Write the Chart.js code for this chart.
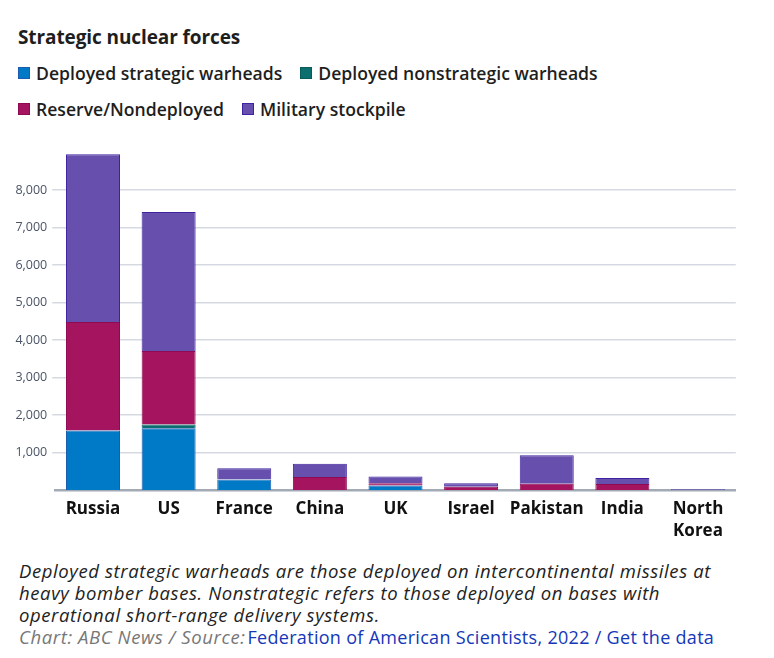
<!DOCTYPE html>
<html><head><meta charset="utf-8">
<script src="https://cdn.jsdelivr.net/npm/chart.js@4.4.1/dist/chart.umd.min.js"></script>
<style>
body{margin:0;background:#fff;width:774px;height:658px;position:relative;overflow:hidden;font-family:"Open Sans","Noto Sans",sans-serif;}
#title{position:absolute;left:18px;top:25px;font-weight:700;font-size:19px;line-height:24px;color:#1e1e1e;letter-spacing:-0.1px;}
.row{position:absolute;left:18px;display:flex;align-items:center;height:24px;}
.item{display:flex;align-items:center;margin-right:18px;font-size:17.6px;font-weight:600;color:#1e1e1e;}
.sw{width:12px;height:12px;margin-right:6px;box-sizing:border-box;}
#wrap{position:absolute;left:0;top:140px;width:774px;height:410px;}
#foot{position:absolute;left:19px;top:560px;font-size:18.5px;line-height:22px;color:#222;white-space:nowrap;}
#foot .note{font-style:italic;letter-spacing:0.6px;}
#foot .src{font-style:italic;color:#777;letter-spacing:0.6px;}
#foot .link{color:#1438b8;font-size:18px;letter-spacing:0.3px;margin-left:2px;}
</style></head>
<body>
<div id="title">Strategic nuclear forces</div>
<div class="row" id="row1" style="top:61px"></div>
<div class="row" id="row2" style="top:97px"></div>
<div id="wrap"><canvas id="c"></canvas></div>
<div id="foot">
<div class="note">Deployed strategic warheads are those deployed on intercontinental missiles at<br>heavy bomber bases. Nonstrategic refers to those deployed on bases with<br>operational short-range delivery systems.</div>
<div><span class="src">Chart: ABC News / Source:</span><span class="link">Federation of American Scientists, 2022 / Get the data</span></div>
</div>
<script>
const categories = ['Russia','US','France','China','UK','Israel','Pakistan','India',['North','Korea']];
const seriesNames = ['Deployed strategic warheads','Deployed nonstrategic warheads','Reserve/Nondeployed','Military stockpile'];
const deployedStrategic    = [1588,1644,280,0,120,0,0,0,0];
const deployedNonstrategic = [0,100,0,0,0,0,0,0,0];
const reserveNondeployed   = [2889,1964,10,350,60,90,165,160,0];
const militaryStockpile    = [4477,3708,290,350,180,90,765,160,20];
const yTicks = [1000,2000,3000,4000,5000,6000,7000,8000];

const fills   = ['#0079c6','#0b6e6f','#a5155f','#674fae'];
const borders = ['#1b5cae','#095c5c','#8e0a52','#3f23a0'];
const seriesData = [deployedStrategic, deployedNonstrategic, reserveNondeployed, militaryStockpile];

seriesNames.forEach((n,i)=>{
  const row = document.getElementById(i<2?'row1':'row2');
  const it = document.createElement('div'); it.className='item';
  it.innerHTML = `<span class="sw" style="background:${fills[i]};border:1px solid ${borders[i]}"></span>${n}`;
  row.appendChild(it);
});

new Chart(document.getElementById('c'), {
  type:'bar',
  data:{
    labels:categories,
    datasets: seriesNames.map((n,i)=>({
      label:n, data:seriesData[i],
      backgroundColor:fills[i], borderColor:borders[i], borderWidth:1,
      categoryPercentage:1, barPercentage:0.714
    }))
  },
  options:{
    responsive:true, maintainAspectRatio:false, animation:false,
    layout:{padding:{top:12.5,right:38.2,left:0,bottom:0}},
    plugins:{legend:{display:false},title:{display:false},tooltip:{enabled:false}},
    scales:{
      x:{stacked:true,
        grid:{display:false},
        border:{display:true,color:'#a2aab6',width:2.5},
        ticks:{padding:0,color:'#111',font:{family:'Open Sans',size:17,weight:'bold',lineHeight:1.3},maxRotation:0,autoSkip:false},
        afterFit:s=>{s.height=60;}
      },
      y:{stacked:true,min:0,max:9000,
        afterBuildTicks:s=>{s.ticks=yTicks.map(v=>({value:v}));},
        grid:{color:'#d5dae2',lineWidth:1.5,drawTicks:true,tickLength:3},
        border:{display:false},
        ticks:{padding:5,color:'#4a5466',font:{family:'Open Sans',size:12.5},
          callback:v=>v.toLocaleString('en-US')},
        afterFit:s=>{s.width=55.2;}
      }
    }
  }
});
</script>
</body></html>
